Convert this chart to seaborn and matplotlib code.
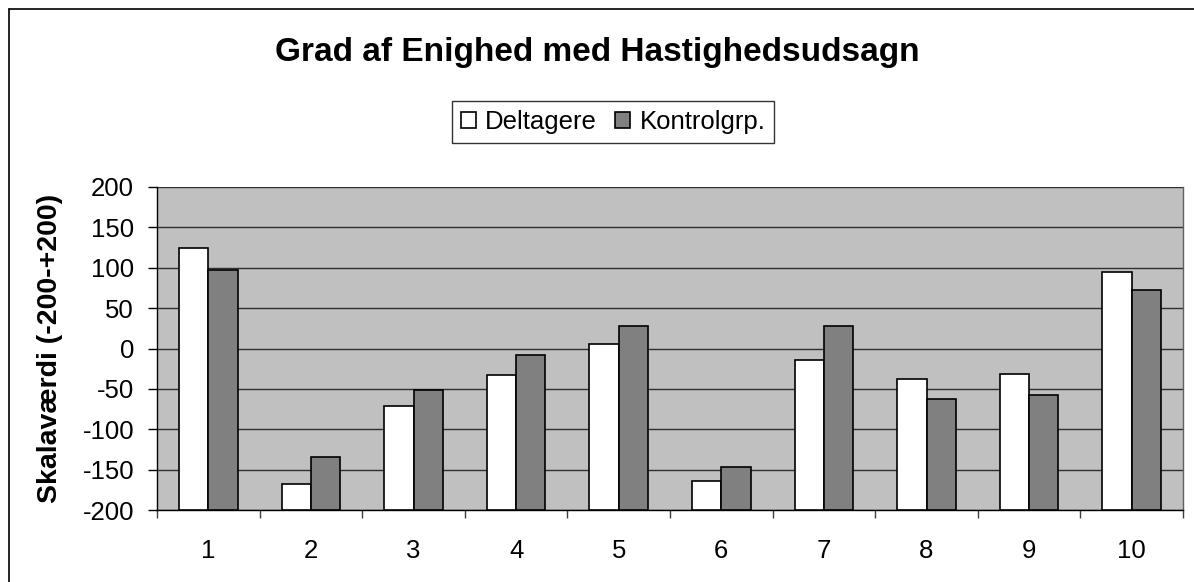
import pandas as pd
import matplotlib.pyplot as plt
import seaborn as sns
from matplotlib.lines import Line2D
from matplotlib.ticker import FuncFormatter

# Data
udsagn = ['1', '2', '3', '4', '5', '6', '7', '8', '9', '10']
deltagere = [125, -168, -71, -33, 5, -164, -14, -38, -31, 95]
kontrolgrp = [97, -134, -52, -8, 28, -147, 28, -63, -57, 72]

# Excel draws the bars up from the axis floor (-200)
y_min, y_max = -200, 200

df = pd.DataFrame({
    'Udsagn': udsagn * 2,
    'Værdi': deltagere + kontrolgrp,
    'Gruppe': ['Deltagere'] * len(udsagn) + ['Kontrolgrp.'] * len(udsagn),
})
df['Højde'] = df['Værdi'] - y_min

sns.set_style('white')
plt.rcParams['font.family'] = ['Liberation Sans', 'DejaVu Sans']
plt.rcParams['text.color'] = 'black'
plt.rcParams['axes.labelcolor'] = 'black'
plt.rcParams['xtick.color'] = 'black'
plt.rcParams['ytick.color'] = 'black'

W, H = 1194, 582
fig = plt.figure(figsize=(W / 100, H / 100), dpi=100)
ax = fig.add_axes([157 / W, 1 - 510 / H, (1183 - 157) / W, (510 - 187) / H])

sns.barplot(data=df, x='Udsagn', y='Højde', hue='Gruppe',
            palette={'Deltagere': '#FFFFFF', 'Kontrolgrp.': '#808080'},
            edgecolor='black', linewidth=1.2, width=0.57, ax=ax, zorder=3)

ax.set_facecolor('#C0C0C0')
ax.set_ylim(0, y_max - y_min)
ax.set_yticks(range(0, y_max - y_min + 1, 50))
ax.yaxis.set_major_formatter(FuncFormatter(lambda v, p: f'{int(v + y_min)}'))
ax.yaxis.grid(True, color='#303030', linewidth=1.0, zorder=1)
ax.set_axisbelow(True)
ax.set_xlim(-0.5, len(udsagn) - 0.5)

# tick marks between categories, labels centred under the groups
ax.set_xticks([i + 0.5 for i in range(-1, len(udsagn))])
ax.set_xticklabels([])
ax.set_xticks(range(len(udsagn)), minor=True)
ax.set_xticklabels(udsagn, minor=True, fontsize=18.5)
ax.tick_params(axis='x', which='major', direction='out', length=6, width=1, color='#404040', bottom=True)
ax.tick_params(axis='x', which='minor', length=0, pad=21)
ax.tick_params(axis='y', direction='out', length=6.5, width=1, color='black', left=True,
               labelsize=18.5, pad=10)

for side in ['left', 'bottom', 'right']:
    ax.spines[side].set_visible(True)
    ax.spines[side].set_color('#606060' if side == 'right' else 'black')
    ax.spines[side].set_linewidth(1.0)
ax.spines['top'].set_visible(False)

ax.set_xlabel('')
ax.set_ylabel('Skalaværdi (-200-+200)', fontsize=20.5, fontweight='bold')
ax.yaxis.set_label_coords(63 / W, 1 - 348 / H, transform=fig.transFigure)

fig.text(0.5, 1 - 52 / H, 'Grad af Enighed med Hastighedsudsagn',
         ha='center', va='center', fontsize=24, fontweight='bold')

leg = ax.legend(loc='center', bbox_to_anchor=(613 / W, 1 - 122 / H), bbox_transform=fig.transFigure,
                ncol=2, frameon=True, fontsize=18.5, handlelength=0.6, handleheight=0.6,
                handletextpad=0.35, columnspacing=0.7, borderpad=0.35, fancybox=False)
leg.get_frame().set_edgecolor('black')
leg.get_frame().set_linewidth(1.0)

# chart border, only the left and top edges are inside the picture
fig.add_artist(Line2D([9 / W, 9 / W], [0, 1 - 9 / H], transform=fig.transFigure, color='black', lw=1.2))
fig.add_artist(Line2D([9 / W, 1], [1 - 9 / H, 1 - 9 / H], transform=fig.transFigure, color='black', lw=1.2))

fig.savefig('out.png', dpi=100, facecolor='white')
